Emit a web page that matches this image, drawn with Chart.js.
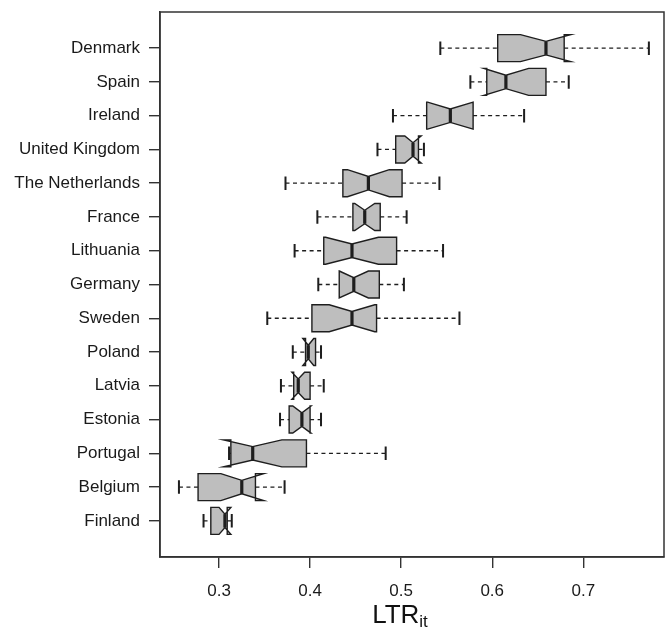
<!DOCTYPE html>
<html>
<head>
<meta charset="utf-8">
<script src="https://cdn.jsdelivr.net/npm/chart.js@4"></script>
<style>
  html, body { margin: 0; padding: 0; background: #fff; }
  #wrap { width: 665px; height: 627px; position: relative; }
</style>
</head>
<body>
<div id="wrap"><canvas id="chart" width="665" height="627"></canvas></div>
<script>
// rows from top to bottom
const countries = ['Denmark', 'Spain', 'Ireland', 'United Kingdom', 'The Netherlands', 'France',
  'Lithuania', 'Germany', 'Sweden', 'Poland', 'Latvia', 'Estonia', 'Portugal', 'Belgium', 'Finland'];

const whiskerLow  = [0.543, 0.576, 0.491, 0.474, 0.373, 0.408, 0.383, 0.409, 0.353, 0.381, 0.368, 0.367, 0.311, 0.256, 0.283];
const q1          = [0.606, 0.594, 0.528, 0.494, 0.436, 0.447, 0.415, 0.432, 0.402, 0.395, 0.382, 0.377, 0.313, 0.277, 0.291];
const notchLow    = [0.631, 0.591, 0.529, 0.504, 0.441, 0.449, 0.417, 0.432, 0.421, 0.392, 0.380, 0.381, 0.305, 0.302, 0.300];
const median      = [0.659, 0.615, 0.554, 0.513, 0.464, 0.460, 0.446, 0.448, 0.446, 0.398, 0.387, 0.391, 0.337, 0.325, 0.3065];
const notchHigh   = [0.686, 0.640, 0.579, 0.522, 0.487, 0.471, 0.475, 0.464, 0.471, 0.404, 0.394, 0.401, 0.369, 0.349, 0.313];
const q3          = [0.679, 0.659, 0.579, 0.519, 0.501, 0.477, 0.495, 0.476, 0.473, 0.406, 0.400, 0.400, 0.396, 0.340, 0.309];
const whiskerHigh = [0.772, 0.684, 0.635, 0.525, 0.542, 0.506, 0.546, 0.503, 0.564, 0.412, 0.415, 0.412, 0.483, 0.372, 0.314];

const xTicks = [0.3, 0.4, 0.5, 0.6, 0.7];

const INK = '#1e1e1e';
const FONT = '"Liberation Sans", Arial, sans-serif';

const boxplotPlugin = {
  id: 'boxplot',
  afterDatasetsDraw(chart) {
    const { ctx, scales: { x, y }, chartArea } = chart;
    ctx.save();
    countries.forEach((c, i) => {
      const cy = y.getPixelForValue(i);
      const w = Math.abs(y.getPixelForValue(i + 0.4) - cy);
      const px = v => x.getPixelForValue(v);

      // notched box (same vertex order as R's bxp)
      ctx.beginPath();
      ctx.moveTo(px(q1[i]), cy - w);
      ctx.lineTo(px(notchLow[i]), cy - w);
      ctx.lineTo(px(median[i]), cy - w / 2);
      ctx.lineTo(px(notchHigh[i]), cy - w);
      ctx.lineTo(px(q3[i]), cy - w);
      ctx.lineTo(px(q3[i]), cy + w);
      ctx.lineTo(px(notchHigh[i]), cy + w);
      ctx.lineTo(px(median[i]), cy + w / 2);
      ctx.lineTo(px(notchLow[i]), cy + w);
      ctx.lineTo(px(q1[i]), cy + w);
      ctx.closePath();
      ctx.fillStyle = '#bebebe';
      ctx.fill();
      ctx.strokeStyle = INK;
      ctx.lineWidth = 1.4;
      ctx.lineJoin = 'miter';
      ctx.stroke();

      // median
      ctx.beginPath();
      ctx.lineWidth = 3.2;
      ctx.lineCap = 'butt';
      ctx.moveTo(px(median[i]), cy - w / 2);
      ctx.lineTo(px(median[i]), cy + w / 2);
      ctx.stroke();

      // whiskers
      ctx.beginPath();
      ctx.lineWidth = 1.3;
      ctx.setLineDash([4, 3.5]);
      ctx.moveTo(px(whiskerLow[i]), cy);
      ctx.lineTo(px(q1[i]), cy);
      ctx.moveTo(px(q3[i]), cy);
      ctx.lineTo(px(whiskerHigh[i]), cy);
      ctx.stroke();
      ctx.setLineDash([]);

      // staples
      ctx.beginPath();
      ctx.lineWidth = 2;
      [whiskerLow[i], whiskerHigh[i]].forEach(v => {
        ctx.moveTo(px(v), cy - w / 2);
        ctx.lineTo(px(v), cy + w / 2);
      });
      ctx.stroke();
    });

    // frame
    ctx.strokeStyle = '#333';
    ctx.lineWidth = 1.5;
    ctx.strokeRect(chartArea.left, chartArea.top, chartArea.right - chartArea.left, chartArea.bottom - chartArea.top);

    // axis title LTR with subscript it
    ctx.fillStyle = '#111';
    ctx.textBaseline = 'alphabetic';
    ctx.font = '26px ' + FONT;
    const wMain = ctx.measureText('LTR').width;
    ctx.font = '17px ' + FONT;
    const wSub = ctx.measureText('it').width;
    const x0 = 400 - (wMain + wSub) / 2;
    ctx.font = '26px ' + FONT;
    ctx.textAlign = 'left';
    ctx.fillText('LTR', x0, 623);
    ctx.font = '17px ' + FONT;
    ctx.fillText('it', x0 + wMain, 627);
    ctx.restore();
  }
};

new Chart(document.getElementById('chart'), {
  type: 'scatter',
  data: {
    datasets: [{
      data: median.map((m, i) => ({ x: m, y: i })),
      pointRadius: 0,
      pointHoverRadius: 0
    }]
  },
  options: {
    responsive: false,
    animation: false,
    events: [],
    layout: { padding: { top: 12, right: 1, left: 0, bottom: 0 } },
    plugins: { legend: { display: false }, tooltip: { enabled: false } },
    scales: {
      x: {
        type: 'linear',
        min: 0.2352,
        max: 0.7886,
        afterBuildTicks: s => { s.ticks = xTicks.map(v => ({ value: v })); },
        afterFit: s => { s.height = 70; s.paddingLeft = 0; s.paddingRight = 0; },
        ticks: {
          callback: v => v.toFixed(1),
          color: '#1a1a1a',
          font: { family: FONT, size: 17 },
          padding: 13,
          maxRotation: 0
        },
        grid: { display: true, drawOnChartArea: false, drawTicks: true, tickLength: 11, color: '#333', lineWidth: 1.4 },
        border: { display: true, color: '#333', width: 1.5 }
      },
      y: {
        type: 'linear',
        reverse: true,
        min: -1.07,
        max: 15.07,
        afterBuildTicks: s => { s.ticks = countries.map((c, i) => ({ value: i })); },
        afterFit: s => { s.width = 160; s.paddingTop = 0; s.paddingBottom = 0; },
        ticks: {
          callback: v => countries[v],
          color: '#1a1a1a',
          font: { family: FONT, size: 17 },
          padding: 9
        },
        grid: { display: true, drawOnChartArea: false, drawTicks: true, tickLength: 11, color: '#333', lineWidth: 1.4 },
        border: { display: true, color: '#333', width: 1.5 }
      }
    }
  },
  plugins: [boxplotPlugin]
});
</script>
</body>
</html>
